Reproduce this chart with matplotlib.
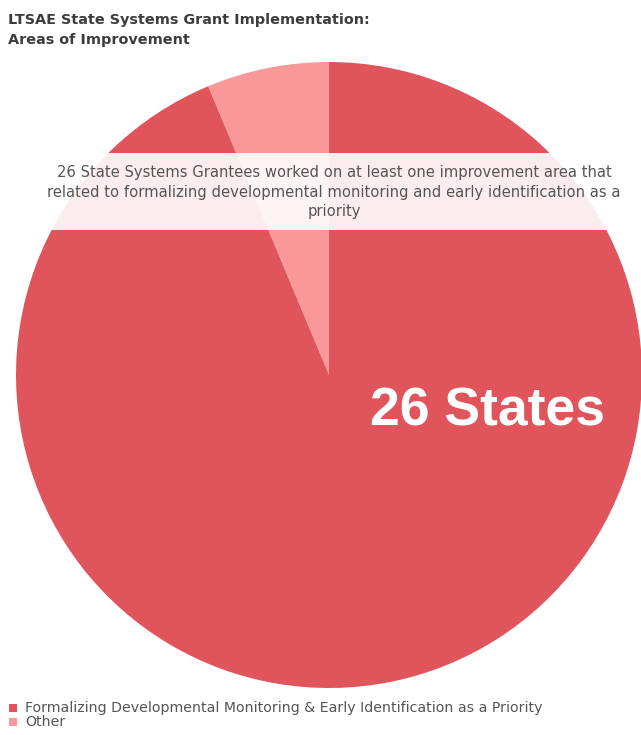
import matplotlib.pyplot as plt
from matplotlib.patches import Rectangle

# data
labels = ["Formalizing Developmental Monitoring & Early Identification as a Priority", "Other"]
values = [26, 1.75]
colors = ["#E0555C", "#F89898"]
title = "LTSAE State Systems Grant Implementation:\nAreas of Improvement"
note = ("26 State Systems Grantees worked on at least one improvement area that\n"
        "related to formalizing developmental monitoring and early identification as a\n"
        "priority")
big_label = "26 States"

W, H = 641, 735
fig = plt.figure(figsize=(W / 100, H / 100), dpi=100)

# pie axes: centre (329, 375) px, radius 313 px
cx, cy, r = 329, 375, 313
ax = fig.add_axes([(cx - r) / W, (H - cy - r) / H, 2 * r / W, 2 * r / H])
# draw Other first so it sits just left of 12 o'clock
ax.pie(values[::-1], colors=colors[::-1], startangle=90, counterclock=True,
       radius=1, wedgeprops=dict(linewidth=0))
ax.set_xlim(-1, 1)
ax.set_ylim(-1, 1)
ax.set_aspect("auto")
ax.axis("off")

# translucent note band
fig.patches.append(Rectangle((24 / W, 1 - 230 / H), 604 / W, 77 / H,
                             transform=fig.transFigure, facecolor="white",
                             alpha=0.9, edgecolor="none", zorder=3))
fig.text(334 / W, 1 - 192 / H, note, ha="center", va="center", fontsize=10.6,
         color="#555555", linespacing=1.39, zorder=4)

fig.text(488 / W, 1 - 412 / H, big_label, ha="center", va="center",
         fontsize=38.5, fontweight="bold", color="white", zorder=4,
         family="Liberation Sans")

fig.text(8 / W, 1 - 30 / H, title, ha="left", va="center", fontsize=10.4,
         fontweight="bold", color="#3c3c3c", linespacing=1.55)

# legend, drawn by hand so the rows sit tight like the reference
for i, (lab, col) in enumerate(zip(labels, colors)):
    y = 708 + i * 14
    fig.patches.append(Rectangle((9 / W, 1 - (y + 4) / H), 8 / W, 8 / H,
                                 transform=fig.transFigure, facecolor=col,
                                 edgecolor="none"))
    fig.text(25 / W, 1 - y / H, lab, ha="left", va="center", fontsize=10.2,
             color="#555555")

fig.savefig("out.png", dpi=100)
